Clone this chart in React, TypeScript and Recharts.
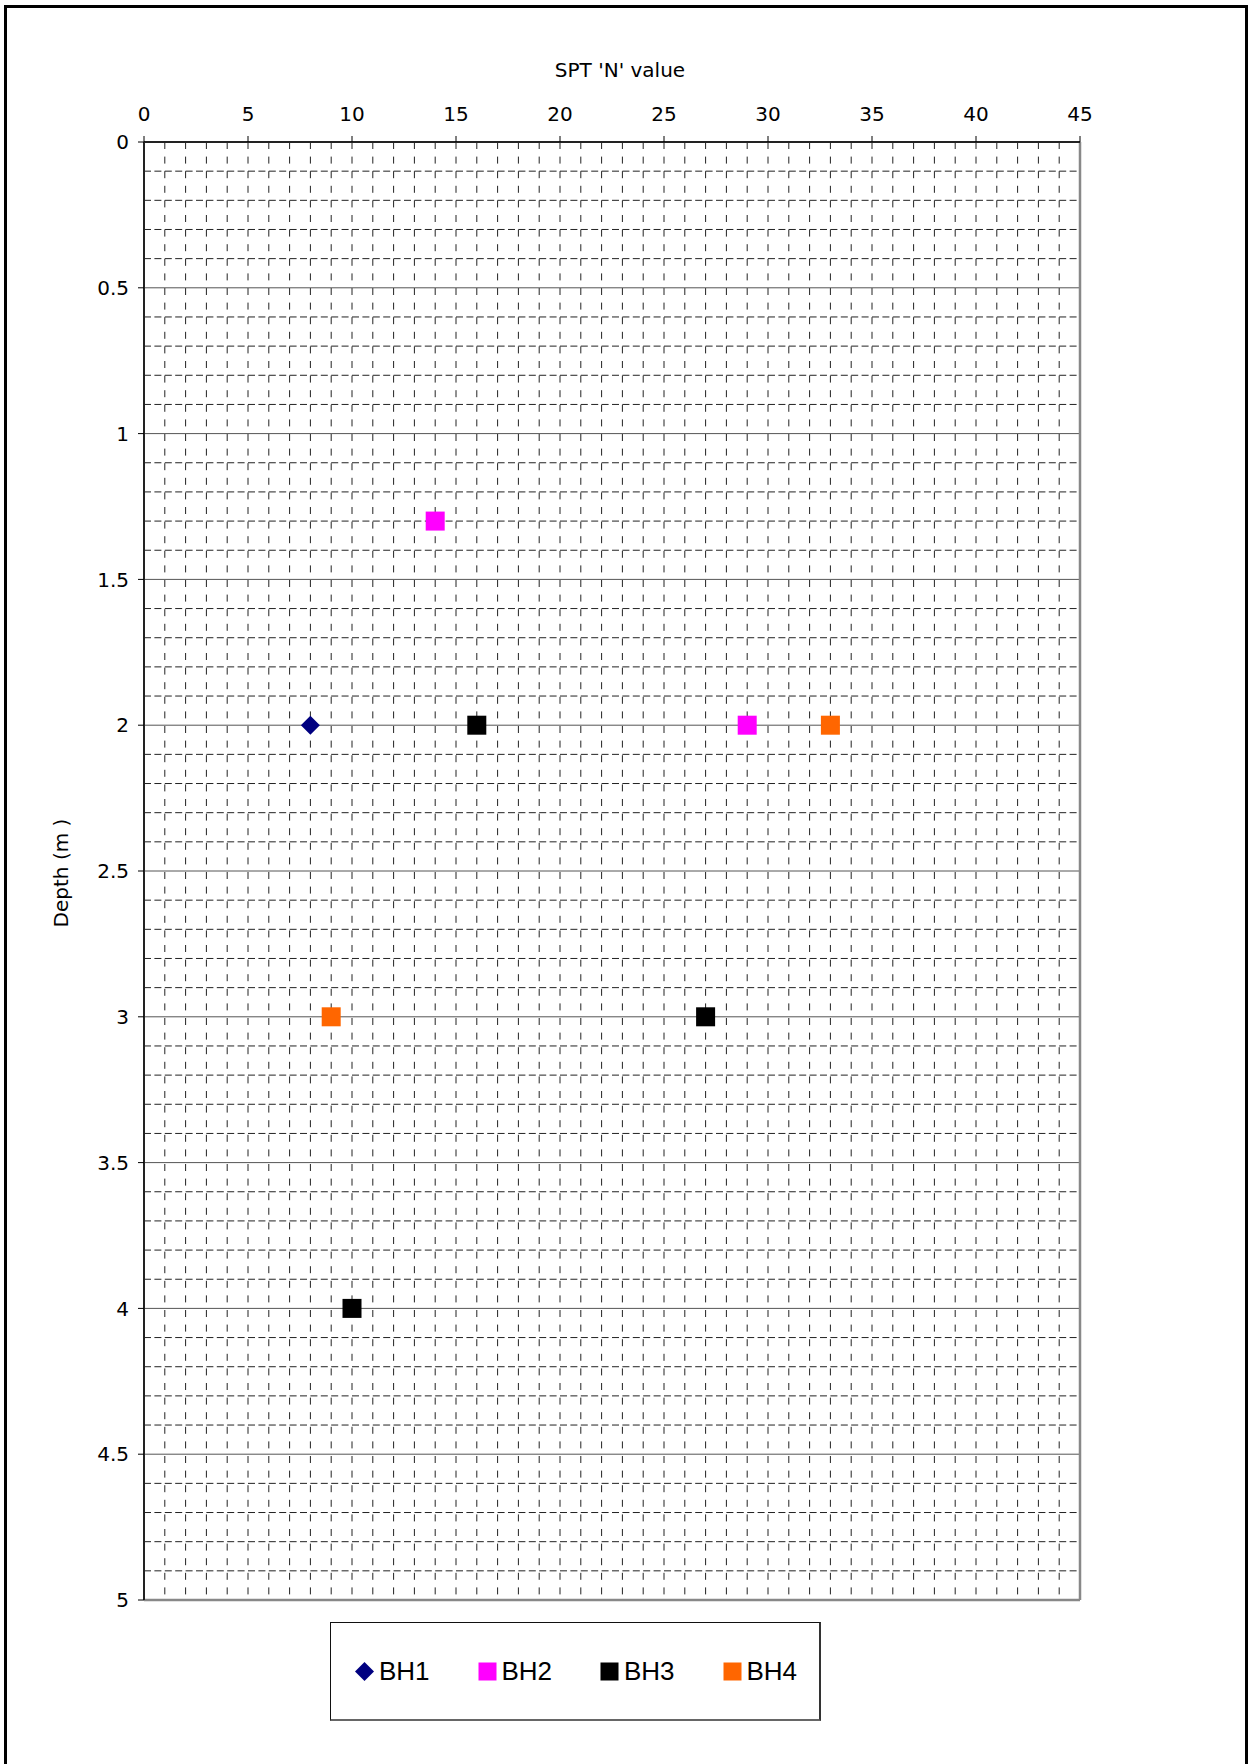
import React from 'react';
import {
  ScatterChart,
  Scatter,
  XAxis,
  YAxis,
  CartesianGrid,
  ReferenceLine,
  Legend,
  Label,
} from 'recharts';

// SPT 'N' value readings by depth (m) for each borehole
const bh1 = [{ n: 8, depth: 2 }];
const bh2 = [
  { n: 14, depth: 1.3 },
  { n: 29, depth: 2 },
];
const bh3 = [
  { n: 16, depth: 2 },
  { n: 27, depth: 3 },
  { n: 10, depth: 4 },
];
const bh4 = [
  { n: 33, depth: 2 },
  { n: 9, depth: 3 },
];

const nTicks = [0, 5, 10, 15, 20, 25, 30, 35, 40, 45];
const depthTicks = [0, 0.5, 1, 1.5, 2, 2.5, 3, 3.5, 4, 4.5, 5];

// minor grid: every unit of N, every 0.1 m of depth (majors drawn separately)
const minorN = Array.from({ length: 44 }, (_, i) => i + 1);
const minorDepth = Array.from({ length: 49 }, (_, i) => (i + 1) / 10)
  .filter((d) => Math.round(d * 10) % 5 !== 0);

const series = [
  { name: 'BH1', data: bh1, color: '#000080', marker: 'diamond' },
  { name: 'BH2', data: bh2, color: '#FF00FF', marker: 'square' },
  { name: 'BH3', data: bh3, color: '#000000', marker: 'square' },
  { name: 'BH4', data: bh4, color: '#FF6600', marker: 'square' },
];

const W = 1252;
const H = 1764;
const tickFont = { fontFamily: 'DejaVu Sans', fontSize: 20, fill: '#000' };

const markerShape = (marker: string, color: string) => (props: any) => {
  const { cx, cy } = props;
  if (marker === 'diamond') {
    const r = 9.5;
    return (
      <polygon
        points={`${cx},${cy - r} ${cx + r},${cy} ${cx},${cy + r} ${cx - r},${cy}`}
        fill={color}
      />
    );
  }
  return <rect x={cx - 9.5} y={cy - 9.5} width={19} height={19} fill={color} />;
};

const LegendBox = () => (
  <div
    style={{
      boxSizing: 'border-box',
      width: 491,
      height: 99,
      border: '1px solid #111',
      borderBottom: '2px solid #666',
      borderRight: '2px solid #333',
      background: '#fff',
      display: 'flex',
      alignItems: 'center',
      paddingLeft: 24,
      fontFamily: 'Liberation Sans, Arial, sans-serif',
      fontSize: 26,
      color: '#000',
      overflow: 'hidden',
    }}
  >
    {series.map((s) => (
      <div key={s.name} style={{ width: 122.5, flexShrink: 0, display: 'flex', alignItems: 'center' }}>
        <svg width={19} height={19} style={{ marginRight: 5 }}>
          {s.marker === 'diamond' ? (
            <polygon points="9.5,0 19,9.5 9.5,19 0,9.5" fill={s.color} />
          ) : (
            <rect x={0.5} y={0.5} width={18} height={18} fill={s.color} />
          )}
        </svg>
        <span>{s.name}</span>
      </div>
    ))}
  </div>
);

const App = () => {
  return (
    <div style={{ position: 'absolute', left: 0, top: 0, width: W, height: H, background: '#fff' }}>
      <div
        style={{
          position: 'absolute',
          left: 4,
          top: 5,
          width: 1244,
          height: H,
          boxSizing: 'border-box',
          borderTop: '3px solid #000',
          borderLeft: '3px solid #000',
          borderRight: '3px solid #000',
        }}
      />
      <div style={{ position: 'absolute', left: 0, top: 0 }}>
        <ScatterChart width={W} height={H} margin={{ top: 82, right: 172, bottom: 164, left: 64 }}>
          <CartesianGrid horizontal={false} verticalValues={minorN} stroke="#222" strokeDasharray="7 7.6" />
          <CartesianGrid vertical={false} horizontalValues={minorDepth} stroke="#222" strokeDasharray="7 3.4" />
          <CartesianGrid vertical={false} stroke="#555" />
          <XAxis
            type="number"
            dataKey="n"
            orientation="top"
            domain={[0, 45]}
            ticks={nTicks}
            interval={0}
            height={60}
            tickSize={6}
            tickMargin={15}
            tick={tickFont}
            stroke="#000"
            axisLine={{ stroke: '#222', strokeWidth: 2 }}
          >
            <Label
              content={({ viewBox }: any) => (
                <text
                  x={viewBox.x + viewBox.width / 2 + 8}
                  y={viewBox.y - 5}
                  textAnchor="middle"
                  fontFamily="DejaVu Sans"
                  fontSize={20}
                  fill="#000"
                >
                  SPT 'N' value
                </text>
              )}
            />
          </XAxis>
          <YAxis
            type="number"
            dataKey="depth"
            reversed
            domain={[0, 5]}
            ticks={depthTicks}
            interval={0}
            width={80}
            tickSize={6}
            tickMargin={9}
            tick={tickFont}
            stroke="#000"
            axisLine={{ stroke: '#222', strokeWidth: 2 }}
          >
            <Label
              content={({ viewBox }: any) => {
                const cy = viewBox.y + viewBox.height / 2 + 2;
                return (
                  <text
                    x={68}
                    y={cy}
                    transform={`rotate(-90 68 ${cy})`}
                    textAnchor="middle"
                    fontFamily="DejaVu Sans"
                    fontSize={20}
                    fill="#000"
                  >
                    Depth (m )
                  </text>
                );
              }}
            />
          </YAxis>
          <ReferenceLine x={45} stroke="#888" strokeWidth={2.5} />
          <ReferenceLine y={5} stroke="#888" strokeWidth={2.5} />
          {series.map((s) => (
            <Scatter
              key={s.name}
              name={s.name}
              data={s.data}
              fill={s.color}
              shape={markerShape(s.marker, s.color)}
              isAnimationActive={false}
            />
          ))}
          <Legend
            layout="horizontal"
            align="center"
            verticalAlign="middle"
            content={() => <LegendBox />}
            wrapperStyle={{ left: 330, top: 1622, width: 491, height: 99 }}
          />
        </ScatterChart>
      </div>
    </div>
  );
};

export default App;
